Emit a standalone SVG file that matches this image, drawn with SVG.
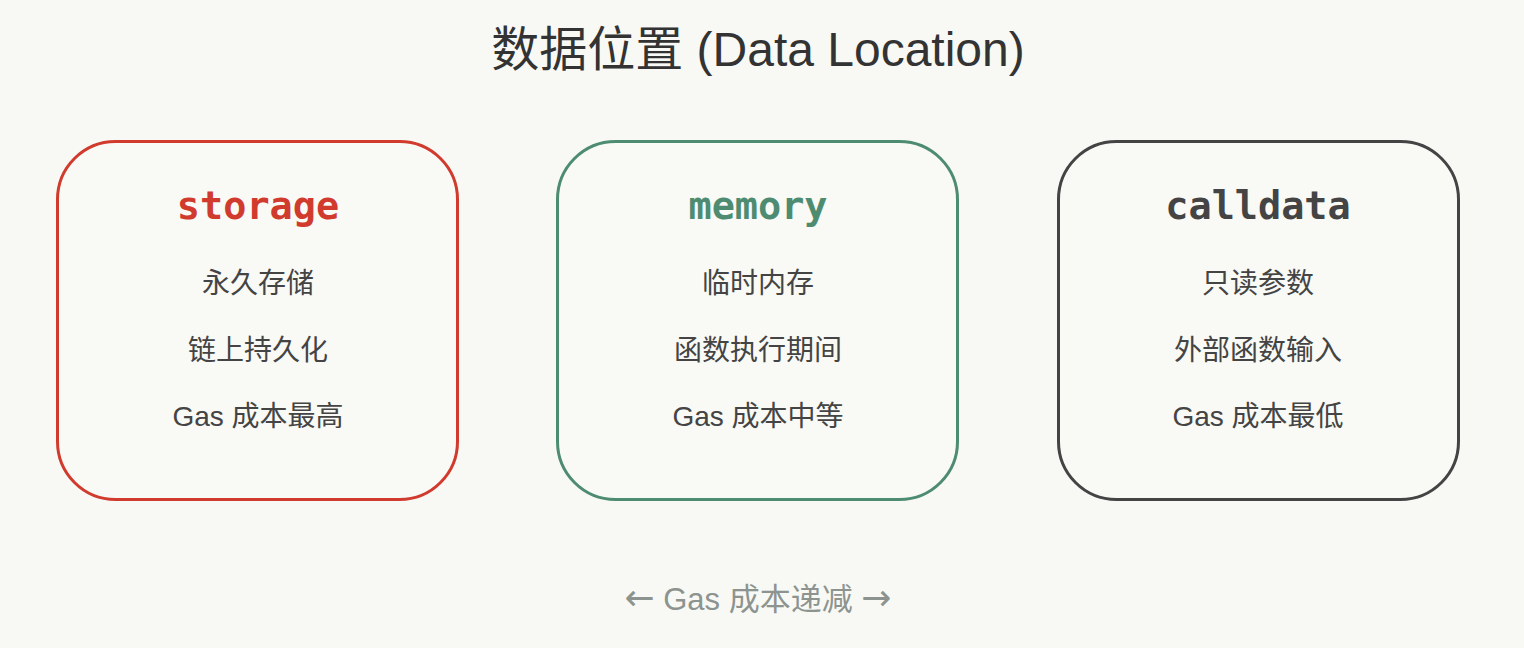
<svg xmlns="http://www.w3.org/2000/svg" width="1524" height="648" viewBox="0 0 1524 648">
<style>
.box{fill:#f9f9f5;stroke-width:3}
.hd{font-family:"DejaVu Sans Mono","Liberation Mono",monospace;font-weight:bold;font-size:38.500px;text-anchor:middle}
.ln{font-family:"Liberation Sans","Noto Sans CJK SC",sans-serif;font-size:28px;fill:#444;text-anchor:middle}
.ar{font-family:"DejaVu Sans",sans-serif;font-size:36px}
</style>
<rect width="1524" height="648" fill="#f8f9f5"/>
<text x="758" y="66" font-family="Liberation Sans,'Noto Sans CJK SC',sans-serif" font-size="48" fill="#333" text-anchor="middle">数据位置 (Data Location)</text>
<g id="connectors"></g>
<g id="storage">
<rect class="box" x="57.500" y="141.500" width="400" height="358" rx="58" stroke="#d13b2e"/>
<text class="hd" x="258" y="219" fill="#d13b2e">storage</text>
<text class="ln" x="258" y="293">永久存储</text>
<text class="ln" x="258" y="360">链上持久化</text>
<text class="ln" x="258" y="426">Gas 成本最高</text>
</g>
<g id="memory">
<rect class="box" x="557.500" y="141.500" width="400" height="358" rx="58" stroke="#4e8c71"/>
<text class="hd" x="758" y="219" fill="#4e8c71">memory</text>
<text class="ln" x="758" y="293">临时内存</text>
<text class="ln" x="758" y="360">函数执行期间</text>
<text class="ln" x="758" y="426">Gas 成本中等</text>
</g>
<g id="calldata">
<rect class="box" x="1058.500" y="141.500" width="400" height="358" rx="58" stroke="#444"/>
<text class="hd" x="1258" y="219" fill="#444">calldata</text>
<text class="ln" x="1258" y="293">只读参数</text>
<text class="ln" x="1258" y="360">外部函数输入</text>
<text class="ln" x="1258" y="426">Gas 成本最低</text>
</g>
<text x="758" y="610" font-family="Liberation Sans,'Noto Sans CJK SC',sans-serif" font-size="31" fill="#8d948f" text-anchor="middle"><tspan class="ar">←</tspan> Gas 成本递减 <tspan class="ar">→</tspan></text>
</svg>
